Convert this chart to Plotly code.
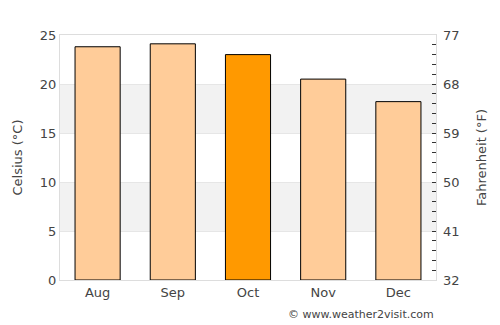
import plotly.graph_objects as go

months = ["Aug", "Sep", "Oct", "Nov", "Dec"]
celsius = [23.8, 24.1, 23.0, 20.5, 18.2]
colors = ["#FFCC99", "#FFCC99", "#FF9900", "#FFCC99", "#FFCC99"]
c_ticks = [0, 5, 10, 15, 20, 25]
f_ticks = [32, 41, 50, 59, 68, 77]
bands = [(5, 10), (15, 20)]

font = "DejaVu Sans"
fig = go.Figure()
fig.add_trace(go.Bar(x=months, y=celsius, marker=dict(color=colors, line=dict(color="black", width=1)),
                     width=0.6, hoverinfo="skip"))
fig.add_trace(go.Scatter(x=months, y=[c * 1.8 + 32 for c in celsius], yaxis="y2", mode="markers",
                         marker=dict(opacity=0), hoverinfo="skip", showlegend=False))
for lo, hi in bands:
    fig.add_shape(type="rect", xref="paper", x0=0, x1=1, yref="y", y0=lo, y1=hi,
                  fillcolor="#f2f2f2", line=dict(width=0), layer="below")

fig.update_layout(
    width=500, height=325, margin=dict(l=60, r=64, t=35, b=45),
    paper_bgcolor="white", plot_bgcolor="white", showlegend=False, bargap=0.4,
    font=dict(family=font, size=13, color="#444"),
    xaxis=dict(showline=True, linecolor="#dddddd", mirror=True, ticks="", tickfont=dict(size=13)),
    yaxis=dict(range=[0, 25], tickvals=c_ticks, showgrid=True, gridcolor="#e6e6e6",
               showline=True, linecolor="#dddddd", mirror=True, zeroline=False,
               title=dict(text="Celsius (°C)", font=dict(size=13), standoff=14), tickfont=dict(size=13)),
    yaxis2=dict(range=[32, 77], tickvals=f_ticks, overlaying="y", side="right", showgrid=False,
                zeroline=False, ticks="inside", ticklen=4, tickcolor="#333", ticklabelstandoff=6,
                minor=dict(dtick=1.8, tick0=32, ticks="inside", ticklen=4, tickcolor="#333"),
                title=dict(text="Fahrenheit (°F)", font=dict(size=13), standoff=18), tickfont=dict(size=13)),
    annotations=[dict(text="© www.weather2visit.com", xref="paper", yref="paper", x=1, y=-0.108,
                      xanchor="right", yanchor="top", showarrow=False, font=dict(size=11, color="#444"))],
)
fig.write_html("out.html")
